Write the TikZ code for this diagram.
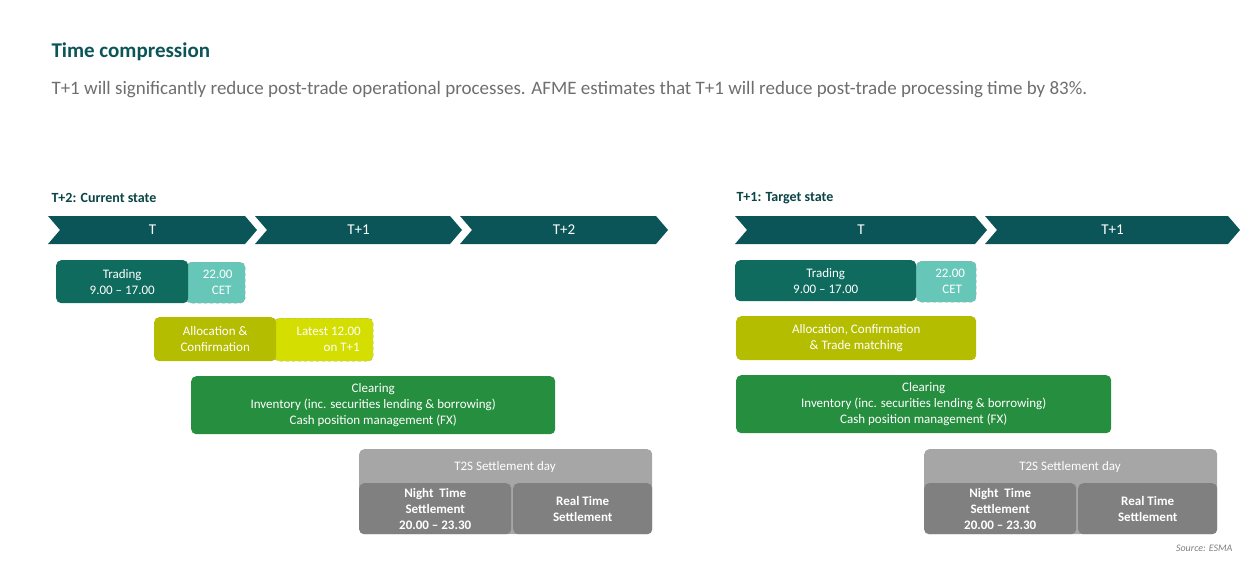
\documentclass[tikz,border=0pt]{standalone}
\usepackage{fontspec}
\setmainfont{Carlito}
\usetikzlibrary{positioning}
\definecolor{teal}{HTML}{0B5558}
\definecolor{trade}{HTML}{0E6B5E}
\definecolor{cet}{HTML}{66C7B8}
\definecolor{alloc}{HTML}{B5BD00}
\definecolor{latest}{HTML}{D4DE00}
\definecolor{clear}{HTML}{268E3F}
\definecolor{lgray}{HTML}{A6A6A6}
\definecolor{dgray}{HTML}{808080}
\definecolor{txtgray}{HTML}{6E6E6E}
\begin{document}
\begin{tikzpicture}[x=1pt,y=-1pt,
    box/.style={anchor=north west, rounded corners=5pt, text=white, align=center,
      inner sep=0pt, font=\fontsize{13}{16}\selectfont},
    dashbox/.style={box, draw=gray!70, dashed},
    lbl/.style={anchor=west, font=\bfseries\fontsize{14}{16}\selectfont, text=teal!80!black},
    daylbl/.style={text=white, font=\fontsize{15}{17}\selectfont}
]
\useasboundingbox (0,0) rectangle (1259,573);

% Header
\node[anchor=west, font=\bfseries\fontsize{21}{24}\selectfont, text=teal] (title) at (48,52) {Time compression};
\node[anchor=west, font=\fontsize{19}{22}\selectfont, text=txtgray] (sub) at (48,90)
  {T+1 will significantly reduce post-trade operational processes. AFME estimates that T+1 will reduce post-trade processing time by 83\%.};

% Chevrons
\newcommand\chev[5]{% name, x0, x1, y0, label
  \fill[teal] (#2,#4) -- (#3-12,#4) -- (#3,#4+14) -- (#3-12,#4+28) -- (#2,#4+28) -- (#2+12,#4+14) -- cycle;
  \node[daylbl] (#1) at ({(#2+#3)/2},#4+14) {#5};}

% Left: current state
\node[lbl] (cur) at (48,198) {T+2: Current state};
\chev{lT}{48}{257}{216}{T}
\chev{lTa}{255}{462}{216}{T+1}
\chev{lTb}{460}{668}{216}{T+2}

\node[dashbox, fill=cet, minimum width=59pt, minimum height=41pt] (lcet) at (186,262) {\hspace*{4pt}22.00\\\hspace*{12pt}CET};
\node[box, fill=trade, minimum width=132pt, minimum height=43pt] (ltrade) at (56,260) {Trading\\9.00 -- 17.00};
\node[dashbox, fill=latest, minimum width=99pt, minimum height=43pt] (llate) at (274,318) {\hspace*{10pt}Latest 12.00\\\hspace*{36pt}on T+1};
\node[box, fill=alloc, minimum width=122pt, minimum height=44pt] (lalloc) at (154,317) {Allocation \&\\Confirmation};
\node[box, fill=clear, minimum width=364pt, minimum height=58pt] (lclear) at (191,376)
  {Clearing\\Inventory (inc. securities lending \& borrowing)\\Cash position management (FX)};
\node[box, fill=lgray, minimum width=293pt, minimum height=85pt, text depth=0pt] (lt2s) at (359,449) {};
\node[anchor=north, text=white, font=\fontsize{13}{16}\selectfont] (lt2sl) at (505,458) {T2S Settlement day};
\node[box, fill=dgray, minimum width=152pt, minimum height=51pt, font=\bfseries\fontsize{13}{16}\selectfont] (lnight) at (359,483) {Night\ \ Time\\Settlement\\20.00 -- 23.30};
\node[box, fill=dgray, minimum width=139pt, minimum height=51pt, font=\bfseries\fontsize{13}{16}\selectfont] (lreal) at (513,483) {Real Time\\Settlement};

% Right: target state
\node[lbl] (tgt) at (733,198) {T+1: Target state};
\chev{rT}{735}{987}{216}{T}
\chev{rTa}{985}{1240}{216}{T+1}

\node[dashbox, fill=cet, minimum width=60pt, minimum height=41pt] (rcet) at (916,261) {\hspace*{8pt}22.00\\\hspace*{12pt}CET};
\node[box, fill=trade, minimum width=181pt, minimum height=41pt] (rtrade) at (735,260) {Trading\\9.00 -- 17.00};
\node[box, fill=alloc, minimum width=240pt, minimum height=44pt] (ralloc) at (736,316) {Allocation, Confirmation\\\& Trade matching};
\node[box, fill=clear, minimum width=375pt, minimum height=58pt] (rclear) at (736,375)
  {Clearing\\Inventory (inc. securities lending \& borrowing)\\Cash position management (FX)};
\node[box, fill=lgray, minimum width=293pt, minimum height=85pt] (rt2s) at (924,449) {};
\node[anchor=north, text=white, font=\fontsize{13}{16}\selectfont] (rt2sl) at (1070,458) {T2S Settlement day};
\node[box, fill=dgray, minimum width=152pt, minimum height=51pt, font=\bfseries\fontsize{13}{16}\selectfont] (rnight) at (924,483) {Night\ \ Time\\Settlement\\20.00 -- 23.30};
\node[box, fill=dgray, minimum width=139pt, minimum height=51pt, font=\bfseries\fontsize{13}{16}\selectfont] (rreal) at (1078,483) {Real Time\\Settlement};

\node[anchor=east, font=\itshape\fontsize{10}{12}\selectfont, text=gray] (src) at (1236,548) {Source: ESMA};
\end{tikzpicture}
\end{document}
